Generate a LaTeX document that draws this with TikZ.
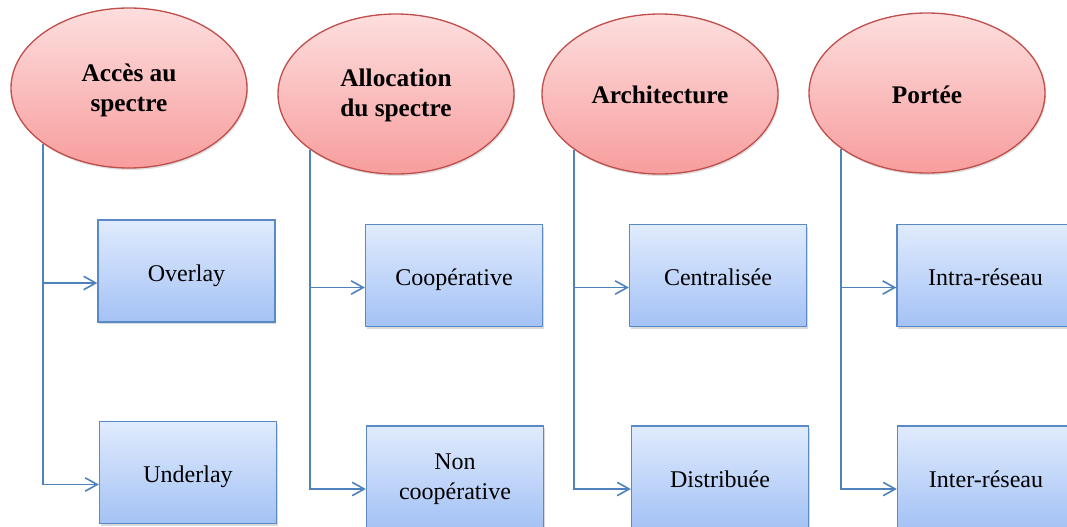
\documentclass[tikz,border=0pt]{standalone}
\usepackage{fontspec}
\setmainfont{Liberation Serif}
\usetikzlibrary{shapes.geometric,arrows.meta,shadows}

\definecolor{catborder}{HTML}{C0504D}
\definecolor{cattop}{HTML}{FDDEDE}
\definecolor{catbot}{HTML}{F89D9D}
\definecolor{itemborder}{HTML}{5A8AC6}
\definecolor{itemtop}{HTML}{E0EBFD}
\definecolor{itembot}{HTML}{A4C2F5}
\definecolor{linkcol}{HTML}{4F81BD}

% lower a label a little while keeping the size of its box
\newcommand{\lowered}[2]{\raisebox{-#1}[\height][\depth]{\begin{tabular}{@{}c@{}}#2\end{tabular}}}

\tikzset{
  category/.style={ellipse, draw=catborder, line width=1pt,
    top color=cattop, bottom color=catbot,
    minimum width=177pt, minimum height=120pt, inner sep=0pt,
    align=center, font=\fontsize{19}{22.5}\selectfont\bfseries,
    drop shadow={opacity=0.25, shadow xshift=0.8pt, shadow yshift=-1.5pt}},
  item/.style={rectangle, draw=itemborder, line width=1pt,
    top color=itemtop, bottom color=itembot,
    minimum width=132.75pt, minimum height=76.5pt, inner sep=0pt,
    align=center, font=\fontsize{18}{22.5}\selectfont,
    drop shadow={opacity=0.3, shadow xshift=0.8pt, shadow yshift=-1.8pt}},
  link/.style={draw=linkcol, line width=1.3pt,
    -{Straight Barb[length=9pt,width=10pt,line width=1.2pt]}},
}

\begin{document}
\begin{tikzpicture}[x=0.75pt,y=-0.75pt]
\useasboundingbox (0,0) rectangle (1067,526);
\clip (0,0) rectangle (1067,526);

% categories
\node[category] (e1) at (129,88) {\lowered{1.5pt}{Accès au\\spectre}};
\node[category] (e2) at (396,94) {\lowered{1pt}{Allocation\\du spectre}};
\node[category] (e3) at (660,94) {\lowered{2.5pt}{Architecture}};
\node[category] (e4) at (927,93) {\lowered{3pt}{Portée}};

% first row of items
\node[item] (a1) at (186.5,271) {\lowered{3pt}{Overlay}};
\node[item] (b1) at (454,275.5) {\lowered{3pt}{Coopérative}};
\node[item] (c1) at (718,275.5) {\lowered{3pt}{Centralisée}};
\node[item] (d1) at (985.5,275.5) {\lowered{3pt}{Intra-réseau}};

% second row of items
\node[item] (a2) at (188,472.5) {\lowered{3pt}{Underlay}};
\node[item] (b2) at (455,477) {\lowered{1pt}{Non\\coopérative}};
\node[item] (c2) at (720,477) {\lowered{3pt}{Distribuée}};
\node[item] (d2) at (986,477) {\lowered{3pt}{Inter-réseau}};

% connectors: a vertical spine below each category, with branches to its items
\foreach \e/\p/\q in {e1/a1/a2, e2/b1/b2, e3/c1/c2, e4/d1/d2}{
  \coordinate (\p-in) at ([yshift=-9pt]\p.west);
  \coordinate (\q-in) at ([yshift=-9pt]\q.west);
  \coordinate (\e-foot) at (\e.213);
  \draw[link] (\e-foot) |- (\q-in);
  \draw[link] (\e-foot |- \p-in) -- (\p-in);
}
\end{tikzpicture}
\end{document}
